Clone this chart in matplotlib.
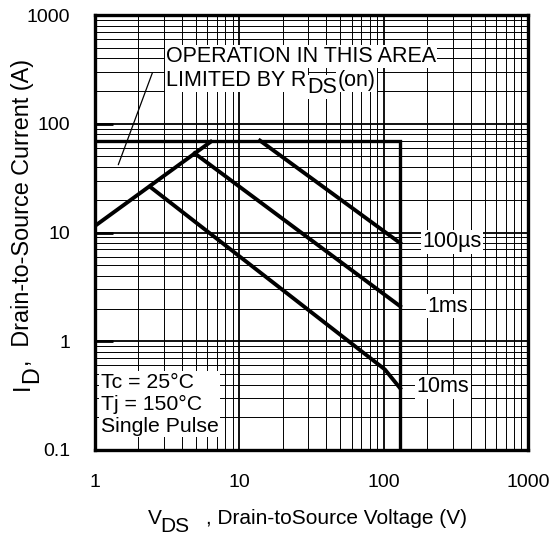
import numpy as np
import matplotlib
matplotlib.use("Agg")
from matplotlib import pyplot as plt
from matplotlib.ticker import LogLocator, NullFormatter

plt.rcParams['font.family'] = ['Liberation Sans', 'DejaVu Sans']

# safe operating area curves
rds_v = [1, 6.5]
rds_i = [11.5, 70]
limit_v = [1, 130, 130]
limit_i = [70, 70, 0.1]
us100_v = [13.9, 130]
us100_i = [70, 8.0]
ms1_v = [4.9, 130]
ms1_i = [53.5, 2.1]
ms10_v = [2.4, 102, 130]
ms10_i = [26.4, 0.55, 0.37]

x_ticks = [1, 10, 100, 1000]
x_ticklabels = ['1', '10', '100', '1000']
y_ticks = [0.1, 1, 10, 100, 1000]
y_ticklabels = ['0.1', '1', '10', '100', '1000']

pulse_labels = ['100\u00b5s', '1ms', '10ms']
pulse_label_pos = [(298, 8.2), (279, 2.1), (258, 0.38)]

W, H = 558, 536
fig = plt.figure(figsize=(W / 100, H / 100), dpi=100)
ax = fig.add_axes([95 / W, 1 - 450 / H, 433 / W, 435 / H])


def px(x, y):
    return x / W, 1 - y / H


ax.set_xscale('log')
ax.set_yscale('log')
ax.set_xlim(1, 1000)
ax.set_ylim(0.1, 1000)

# grid
ax.xaxis.set_minor_locator(LogLocator(base=10, subs=np.arange(2, 10)))
ax.yaxis.set_minor_locator(LogLocator(base=10, subs=np.arange(2, 10)))
ax.xaxis.set_minor_formatter(NullFormatter())
ax.yaxis.set_minor_formatter(NullFormatter())
ax.grid(which='minor', color='black', lw=0.7)
ax.grid(which='major', color='black', lw=1.3)
ax.set_axisbelow(True)

ax.set_xticks(x_ticks)
ax.set_xticklabels(x_ticklabels)
ax.set_yticks(y_ticks)
ax.set_yticklabels(y_ticklabels)
ax.tick_params(axis='x', which='major', length=0, pad=17, labelsize=14)
ax.tick_params(axis='y', which='major', direction='in', length=13, width=2,
               pad=18, labelsize=14)
ax.tick_params(which='minor', length=0)
for s in ax.spines.values():
    s.set_linewidth(2.4)

# curves
lw = 2.8
ax.plot(rds_v, rds_i, color='black', lw=lw, solid_capstyle='butt')
ax.plot(limit_v, limit_i, color='black', lw=2.4, solid_joinstyle='miter')
ax.plot(us100_v, us100_i, color='black', lw=lw)
ax.plot(ms1_v, ms1_i, color='black', lw=lw)
ax.plot(ms10_v, ms10_i, color='black', lw=lw)

fs = 15.5
box = dict(facecolor='white', edgecolor='none', pad=1)
for lab, (x, y) in zip(pulse_labels, pulse_label_pos):
    ax.text(x, y, lab, fontsize=fs, ha='center', va='center', bbox=box)

# R_DS(on) note
ax.text(3.1, 414, 'OPERATION IN THIS AREA', fontsize=fs, ha='left',
        va='center', bbox=box)
t1 = ax.text(3.1, 252, 'LIMITED BY R', fontsize=fs, ha='left', va='center',
             bbox=box)
t2 = ax.annotate('DS', xy=(1, 0), xycoords=t1, xytext=(1, -5),
                 textcoords='offset points', fontsize=fs, ha='left',
                 va='bottom', bbox=box)
ax.annotate('(on)', xy=(1, 0), xycoords=t2, xytext=(0, 5),
            textcoords='offset points', fontsize=fs, ha='left', va='bottom',
            bbox=box)
ax.annotate('', xy=(1.45, 42), xytext=(2.5, 295),
            arrowprops=dict(arrowstyle='-', color='black', lw=0.9,
                            shrinkA=0, shrinkB=0))

ax.text(1.1, 0.135, 'Tc = 25\u00b0C\nTj = 150\u00b0C\nSingle Pulse',
        fontsize=15.3, ha='left', va='bottom', linespacing=1.2, bbox=box)

# axis labels
fs_x = 15
fig.text(*px(148, 524), 'V', fontsize=fs_x, ha='left', va='baseline')
fig.text(*px(160, 532), 'DS', fontsize=fs_x, ha='left', va='baseline')
fig.text(*px(206, 524), ', Drain-toSource Voltage (V)', fontsize=fs_x,
         ha='left', va='baseline')

fs_y = 16.8
fig.text(*px(29, 390), 'I', fontsize=fs_y, rotation=90,
         rotation_mode='anchor', ha='left', va='baseline')
fig.text(*px(38, 383), 'D', fontsize=fs_y, rotation=90,
         rotation_mode='anchor', ha='left', va='baseline')
fig.text(*px(29, 366), ',  Drain-to-Source Current (A)', fontsize=fs_y,
         rotation=90, rotation_mode='anchor', ha='left', va='baseline')

fig.savefig('out.png', dpi=100)
